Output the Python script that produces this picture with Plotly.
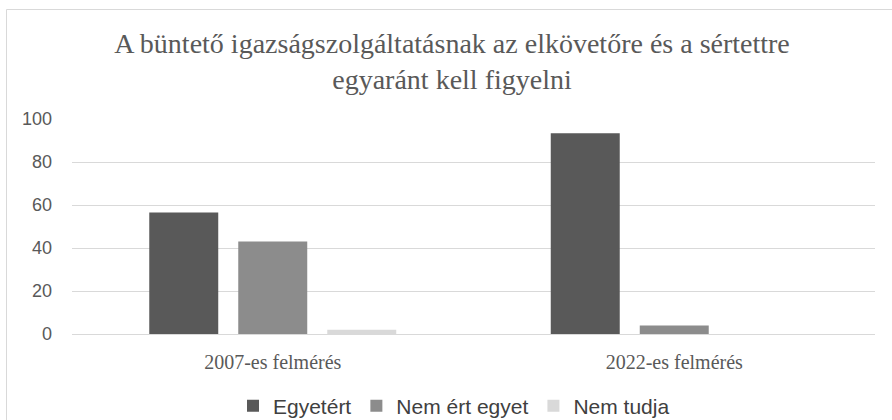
import plotly.graph_objects as go

categories = ["2007-es felmérés", "2022-es felmérés"]
series_names = ["Egyetért", "Nem ért egyet", "Nem tudja"]
egyetert = [56.5, 93.4]
nem_ert_egyet = [43.0, 3.9]
nem_tudja = [2.0, 0.0]
colors = ["#595959", "#8c8c8c", "#d9d9d9"]
title_text = "A büntető igazságszolgáltatásnak az elkövetőre és a sértettre<br>egyaránt kell figyelni"

fig = go.Figure()
for name, vals, col in zip(series_names, [egyetert, nem_ert_egyet, nem_tudja], colors):
    fig.add_trace(go.Bar(x=categories, y=vals, name=name, marker=dict(color=col, line=dict(width=0))))

L, R, T, B = 72, 17, 119, 86
W, H = 892, 420
pw, ph = W - L - R, H - T - B

def px(x):
    return (x - L) / pw

def py(y):
    return (H - B - y) / ph

fig.update_layout(
    width=W, height=H,
    margin=dict(l=L, r=R, t=T, b=B, autoexpand=False),
    paper_bgcolor="white", plot_bgcolor="white",
    barmode="group", bargap=0.335, bargroupgap=0.225,
    title=dict(text=title_text, x=452 / W, xanchor="center", xref="container",
               y=1 - 53 / H, yanchor="middle", yref="container",
               font=dict(family="Liberation Serif", size=28, color="#595959")),
    showlegend=True,
    legend=dict(orientation="h", x=454 / W, xanchor="center", xref="container",
                y=(H - 406) / H, yanchor="middle", yref="container",
                font=dict(family="Liberation Sans", size=21, color="#404040"),
                itemwidth=30, traceorder="normal"),
    xaxis=dict(showgrid=False, showline=False, ticks="", ticklabelstandoff=14,
               tickfont=dict(family="Liberation Serif", size=20, color="#595959")),
    yaxis=dict(range=[0, 100], dtick=20, showgrid=True, gridcolor="#d9d9d9", gridwidth=1,
               zeroline=True, zerolinecolor="#d9d9d9", zerolinewidth=1, showline=False,
               ticks="", ticklabelstandoff=19,
               tickfont=dict(family="Liberation Sans", size=18, color="#595959")),
    shapes=[
        dict(type="line", xref="paper", yref="paper", x0=px(6.5), x1=px(W + 5), y0=py(9.5), y1=py(9.5),
             line=dict(color="#d9d9d9", width=1)),
        dict(type="line", xref="paper", yref="paper", x0=px(6.5), x1=px(6.5), y0=py(9.5), y1=py(H + 5),
             line=dict(color="#d9d9d9", width=1)),
    ],
)

fig.write_html("out.html", config={"displayModeBar": False})

with open("out.html", "r", encoding="utf-8") as f:
    html = f.read()
html = html.replace("<head>", "<head><style>html,body{margin:0;padding:0;overflow:hidden;}</style>", 1)
with open("out.html", "w", encoding="utf-8") as f:
    f.write(html)
